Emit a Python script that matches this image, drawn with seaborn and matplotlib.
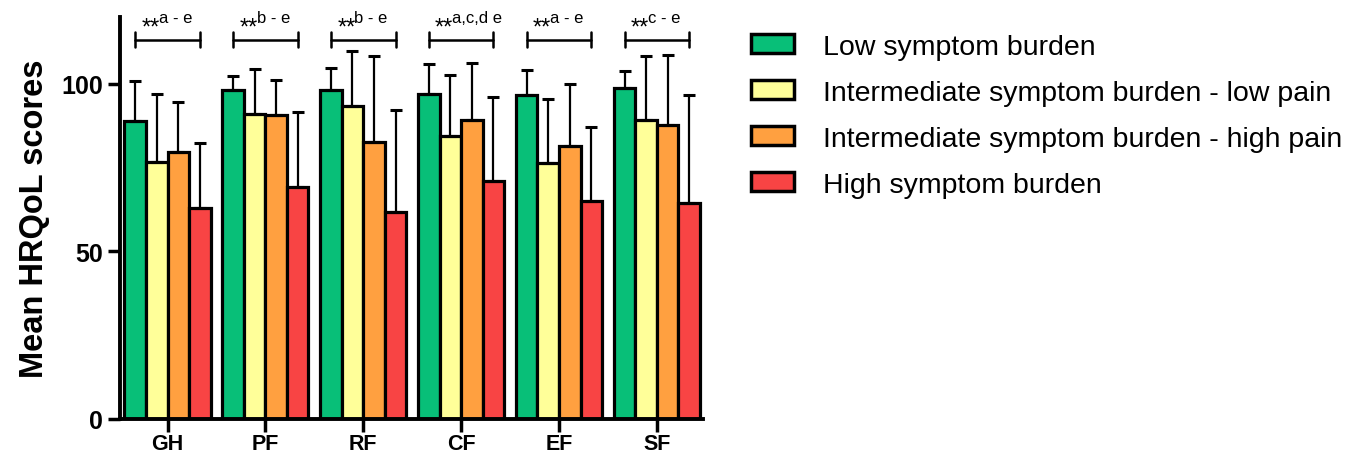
import numpy as np
import pandas as pd
import seaborn as sns
import matplotlib.pyplot as plt

sns.set_style('white')
plt.rcParams['font.family'] = ['Liberation Sans', 'DejaVu Sans']
plt.rcParams['text.color'] = 'black'
plt.rcParams['axes.labelcolor'] = 'black'
plt.rcParams['xtick.color'] = 'black'
plt.rcParams['ytick.color'] = 'black'

domains = ['GH', 'PF', 'RF', 'CF', 'EF', 'SF']
groups = ['Low symptom burden',
          'Intermediate symptom burden - low pain',
          'Intermediate symptom burden - high pain',
          'High symptom burden']

low_mean = [88.9, 98.3, 98.3, 97.1, 96.8, 98.8]
low_sd = [11.9, 4.0, 6.5, 8.8, 7.2, 5.0]
int_low_mean = [76.6, 91.0, 93.3, 84.3, 76.3, 89.3]
int_low_sd = [20.3, 13.3, 16.5, 18.3, 19.2, 19.0]
int_high_mean = [79.6, 90.6, 82.5, 89.3, 81.5, 87.8]
int_high_sd = [15.0, 10.4, 25.8, 16.8, 18.3, 20.8]
high_mean = [62.8, 69.3, 61.7, 71.0, 64.9, 64.4]
high_sd = [19.4, 22.2, 30.4, 25.0, 22.1, 32.2]

sig_labels = ['a - e', 'b - e', 'b - e', 'a,c,d e', 'a - e', 'c - e']
colors = ['#08BF78', '#FFFF99', '#FFA040', '#F84444']

means = [low_mean, int_low_mean, int_high_mean, high_mean]
sds = [low_sd, int_low_sd, int_high_sd, high_sd]

rows = []
for g, m, s in zip(groups, means, sds):
    for d, mv, sv in zip(domains, m, s):
        rows.append({'domain': d, 'group': g, 'mean': mv, 'sd': sv})
df = pd.DataFrame(rows)

fig = plt.figure(figsize=(13.49, 4.56), dpi=100)
ax = fig.add_axes([0.089, 0.079, 0.432, 0.882])

sns.barplot(data=df, x='domain', y='mean', hue='group', hue_order=groups,
            order=domains, palette=colors, saturation=1, width=0.88,
            errorbar=None, edgecolor='black', linewidth=2.3, ax=ax,
            legend=False)
bars = list(ax.containers)

# upward-only error bars at each bar's centre
for cont, g in zip(bars, groups):
    sub = df[df['group'] == g].set_index('domain').loc[domains]
    xs = [p.get_x() + p.get_width() / 2 for p in cont.patches]
    ax.errorbar(xs, sub['mean'], yerr=[np.zeros(len(xs)), sub['sd']],
                fmt='none', ecolor='black', elinewidth=1.6, capsize=4,
                capthick=2.2, zorder=1)

# significance brackets
first = bars[0].patches
last = bars[-1].patches
for i, lab in enumerate(sig_labels):
    x0 = first[i].get_x() + first[i].get_width() / 2
    x1 = last[i].get_x() + last[i].get_width() / 2
    xc = (x0 + x1) / 2
    ax.plot([x0, x1], [113.2, 113.2], color='black', lw=1.8, clip_on=False)
    for xe in (x0, x1):
        ax.plot([xe, xe], [111.0, 115.4], color='black', lw=1.8, clip_on=False)
    ax.text(xc - 0.08, 116.8, '**', ha='right', va='center', fontsize=17,
            clip_on=False)
    ax.text(xc - 0.09, 119.8, lab, ha='left', va='center', fontsize=12,
            clip_on=False)

ax.set_ylim(0, 120)
ax.set_xlim(-0.485, 5.47)
ax.set_yticks([0, 50, 100])
ax.set_xlabel('')
ax.set_ylabel('Mean HRQoL scores', fontsize=23.5, fontweight='bold', labelpad=8)
ax.tick_params(axis='y', labelsize=18, width=2.5, length=9, direction='out',
               left=True)
ax.tick_params(axis='x', labelsize=15.5, width=2.5, length=9, direction='out',
               bottom=True, pad=1)
for lab in ax.get_xticklabels() + ax.get_yticklabels():
    lab.set_fontweight('bold')
sns.despine(ax=ax)
for sp in ['left', 'bottom']:
    ax.spines[sp].set_linewidth(2.8)
    ax.spines[sp].set_color('black')

handles = [plt.Rectangle((0, 0), 1, 1, facecolor=c, edgecolor='black',
                         linewidth=2.5) for c in colors]
fig.legend(handles, groups, loc='upper left', bbox_to_anchor=(0.538, 0.98),
           frameon=False, fontsize=20.5, handlelength=1.5, handleheight=0.65,
           handletextpad=1.0, labelspacing=0.7)

fig.savefig('out.png', dpi=100)
